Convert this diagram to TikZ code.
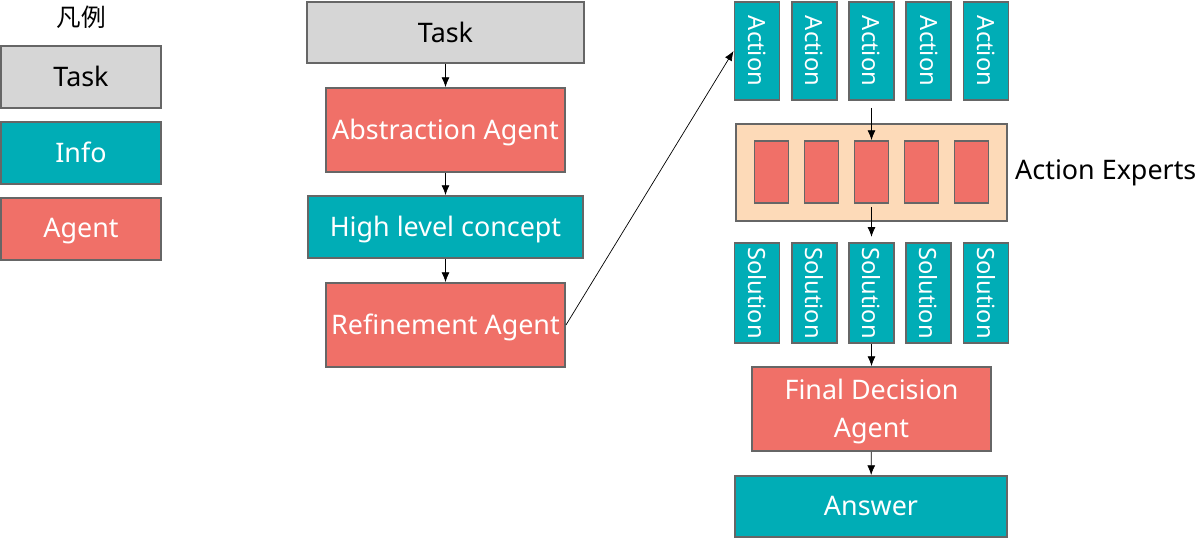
\documentclass[tikz,border=0pt]{standalone}
\usepackage{fontspec}
\setmainfont{Noto Sans}
\newfontfamily\jpfont{Noto Sans CJK JP}
\usetikzlibrary{arrows.meta}
\definecolor{taskgray}{RGB}{214,214,214}
\definecolor{infoteal}{RGB}{0,173,182}
\definecolor{agentred}{RGB}{240,112,104}
\definecolor{expertpeach}{RGB}{253,218,184}
\definecolor{edgegray}{RGB}{102,102,102}
\newdimen\pxu \pxu=0.02cm
\tikzset{
	size/.style 2 args={minimum width=#1\pxu,minimum height=#2\pxu},
	box/.style={draw=edgegray,line width=1.1pt,inner sep=0pt,align=center,text depth=.08em,font=\fontsize{15.3}{22}\selectfont},
	vtext/.style={text depth=,font=\fontsize{13.5}{16}\selectfont},
	taskbox/.style={box,fill=taskgray,text=black},
	infobox/.style={box,fill=infoteal,text=white},
	agentbox/.style={box,fill=agentred,text=white},
	expertbox/.style={box,fill=expertpeach},
}
\begin{document}
\begin{tikzpicture}[x=0.02cm,y=-0.02cm,>={Latex[length=5.5pt,width=4.5pt]}]
		\useasboundingbox (0,0) rectangle (1200,540);
		% legend
		\node[font=\jpfont\fontsize{14}{17}\selectfont] (legend) at (81,17) {凡例};
		\node[taskbox,size={160}{62}] (legTask) at (81,77) {Task};
		\node[infobox,size={160}{62}] (legInfo) at (81,153) {Info};
		\node[agentbox,size={160}{62}] (legAgent) at (81,229) {Agent};
		% abstraction chain
		\node[taskbox,size={277}{61}] (task) at (445.5,32.5) {Task};
		\node[agentbox,size={239}{84}] (abst) at (445.5,130) {Abstraction Agent};
		\node[infobox,size={275}{62}] (concept) at (445.5,227) {High level concept};
		\node[agentbox,size={239}{84}] (refine) at (445.5,325) {Refinement Agent};
		\draw[->] (task)--(abst);
		\draw[->] (abst)--(concept);
		\draw[->] (concept)--(refine);
		% actions, experts, solutions
		\node[expertbox,size={271}{97}] (experts) at (871.5,172.5) {};
		\node[anchor=west,font=\fontsize{15.3}{19}\selectfont] (expLabel) at (1009,173) {Action Experts};
		\foreach \i in {1,...,5}{
			\pgfmathsetmacro{\xa}{757+57.25*(\i-1)}
			\pgfmathsetmacro{\xe}{771.5+50*(\i-1)}
			\node[infobox,vtext,size={45}{98}] (act\i) at (\xa,51) {\rotatebox{-90}{Action}};
			\node[agentbox,size={34}{62}] (exp\i) at (\xe,172) {};
			\node[infobox,vtext,size={45}{100}] (sol\i) at (\xa,293) {\rotatebox{-90}{Solution}};
		}
		\node[agentbox,size={239}{84}] (final) at (871.5,409) {Final Decision\\Agent};
		\node[infobox,size={272}{61}] (answer) at (871,506.5) {Answer};
		\draw[->] (refine.east)--(act1.west);
		\draw[->,shorten <=4pt] (act3)--(exp3);
		\draw[->,shorten <=2pt,shorten >=3pt] (exp3)--(sol3);
		\draw[->] (sol3)--(final);
		\draw[->] (final)--(answer);
	\end{tikzpicture}
\end{document}
